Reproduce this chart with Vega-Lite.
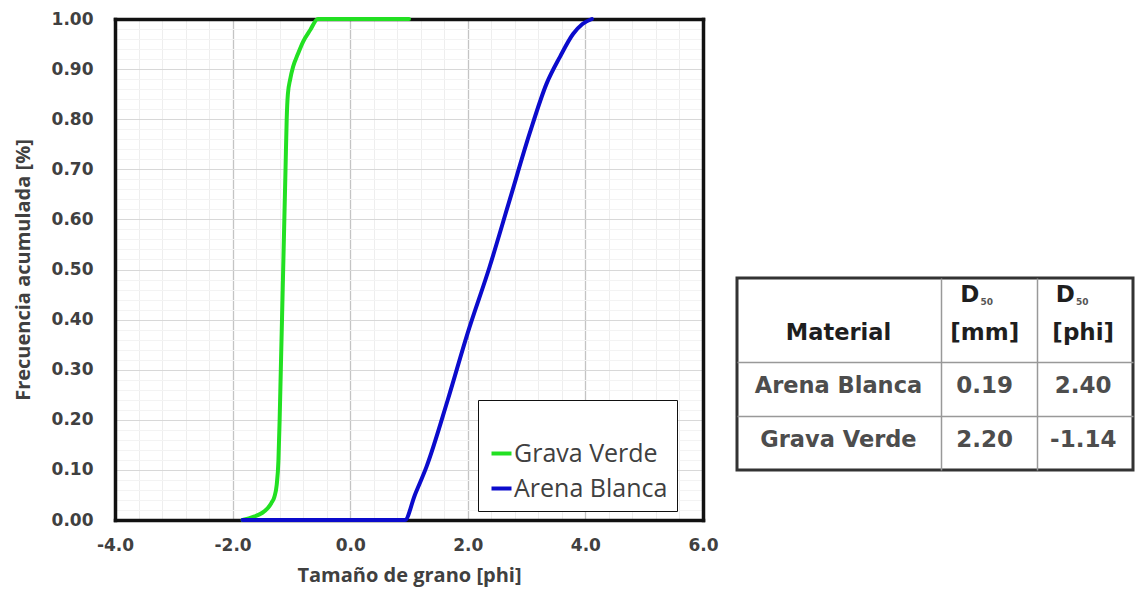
{
  "$schema": "https://vega.github.io/schema/vega-lite/v6.json",
  "padding": {"left": 13, "top": 10, "right": 2, "bottom": 14},
  "bounds": "flush",
  "spacing": 34,
  "datasets": {
    "curvas": [
      {"material": "Grava Verde", "phi": -1.83, "frecuencia": 0.0},
      {"material": "Grava Verde", "phi": -1.65, "frecuencia": 0.006},
      {"material": "Grava Verde", "phi": -1.5, "frecuencia": 0.014},
      {"material": "Grava Verde", "phi": -1.4, "frecuencia": 0.024},
      {"material": "Grava Verde", "phi": -1.34, "frecuencia": 0.034},
      {"material": "Grava Verde", "phi": -1.29, "frecuencia": 0.046},
      {"material": "Grava Verde", "phi": -1.25, "frecuencia": 0.07},
      {"material": "Grava Verde", "phi": -1.22, "frecuencia": 0.12},
      {"material": "Grava Verde", "phi": -1.2, "frecuencia": 0.2},
      {"material": "Grava Verde", "phi": -1.18, "frecuencia": 0.3},
      {"material": "Grava Verde", "phi": -1.16, "frecuencia": 0.4},
      {"material": "Grava Verde", "phi": -1.14, "frecuencia": 0.5},
      {"material": "Grava Verde", "phi": -1.12, "frecuencia": 0.6},
      {"material": "Grava Verde", "phi": -1.1, "frecuencia": 0.7},
      {"material": "Grava Verde", "phi": -1.08, "frecuencia": 0.8},
      {"material": "Grava Verde", "phi": -1.06, "frecuencia": 0.85},
      {"material": "Grava Verde", "phi": -1.02, "frecuencia": 0.88},
      {"material": "Grava Verde", "phi": -0.97, "frecuencia": 0.905},
      {"material": "Grava Verde", "phi": -0.89, "frecuencia": 0.93},
      {"material": "Grava Verde", "phi": -0.8, "frecuencia": 0.955},
      {"material": "Grava Verde", "phi": -0.68, "frecuencia": 0.978},
      {"material": "Grava Verde", "phi": -0.55, "frecuencia": 1.0},
      {"material": "Grava Verde", "phi": 1.0, "frecuencia": 1.0},
      {"material": "Arena Blanca", "phi": -1.83, "frecuencia": 0.0},
      {"material": "Arena Blanca", "phi": 0.93, "frecuencia": 0.0},
      {"material": "Arena Blanca", "phi": 1.1, "frecuencia": 0.05},
      {"material": "Arena Blanca", "phi": 1.3, "frecuencia": 0.107},
      {"material": "Arena Blanca", "phi": 1.66, "frecuencia": 0.24},
      {"material": "Arena Blanca", "phi": 2.0, "frecuencia": 0.374},
      {"material": "Arena Blanca", "phi": 2.37, "frecuencia": 0.505},
      {"material": "Arena Blanca", "phi": 2.71, "frecuencia": 0.638},
      {"material": "Arena Blanca", "phi": 3.05, "frecuencia": 0.771},
      {"material": "Arena Blanca", "phi": 3.34, "frecuencia": 0.871},
      {"material": "Arena Blanca", "phi": 3.57, "frecuencia": 0.925},
      {"material": "Arena Blanca", "phi": 3.79, "frecuencia": 0.97},
      {"material": "Arena Blanca", "phi": 3.95, "frecuencia": 0.99},
      {"material": "Arena Blanca", "phi": 4.11, "frecuencia": 1.0}
    ],
    "tabla": [
      {"Material": "Material", "mm": "[mm]", "phi": "[phi]"},
      {"Material": "Arena Blanca", "mm": "0.19", "phi": "2.40"},
      {"Material": "Grava Verde", "mm": "2.20", "phi": "-1.14"}
    ]
  },
  "hconcat": [
    {
      "width": 588,
      "height": 501,
      "data": {"name": "curvas"},
      "layer": [
        {
          "mark": {"type": "point", "opacity": 0},
          "encoding": {
            "x": {
              "field": "phi", "type": "quantitative",
              "scale": {"domain": [-4, 6], "nice": false, "zero": false},
              "axis": {
                "orient": "top",
                "values": [-3.6, -3.2, -2.8, -2.4, -1.6, -1.2, -0.8, -0.4, 0.4, 0.8, 1.2, 1.6, 2.4, 2.8, 3.2, 3.6, 4.4, 4.8, 5.2, 5.6],
                "grid": true, "gridColor": "#eeeeee", "gridWidth": 1,
                "labels": false, "ticks": false,
                "domain": true, "domainColor": "#111111", "domainWidth": 3.5, "domainCap": "square",
                "title": null
              }
            },
            "y": {
              "field": "frecuencia", "type": "quantitative",
              "scale": {"domain": [0, 1], "nice": false},
              "axis": {
                "orient": "right",
                "values": [0.02, 0.04, 0.06, 0.08, 0.12, 0.14, 0.16, 0.18, 0.22, 0.24, 0.26, 0.28, 0.32, 0.34, 0.36, 0.38, 0.42, 0.44, 0.46, 0.48, 0.52, 0.54, 0.56, 0.58, 0.62, 0.64, 0.66, 0.68, 0.72, 0.74, 0.76, 0.78, 0.82, 0.84, 0.86, 0.88, 0.92, 0.94, 0.96, 0.98],
                "grid": true, "gridColor": "#f3f3f3", "gridWidth": 1,
                "labels": false, "ticks": false,
                "domain": true, "domainColor": "#111111", "domainWidth": 3.5, "domainCap": "square",
                "title": null
              }
            }
          }
        },
        {
          "mark": {"type": "line", "strokeWidth": 4, "interpolate": "monotone", "strokeCap": "round"},
          "encoding": {
            "x": {
              "field": "phi", "type": "quantitative",
              "axis": {
                "orient": "bottom",
                "values": [-4, -2, 0, 2, 4, 6],
                "grid": true, "gridColor": "#c4c4c4", "gridWidth": 1.3,
                "ticks": false, "labelFlush": false, "labelOverlap": false,
                "domain": true, "domainColor": "#111111", "domainWidth": 3.5, "domainCap": "square",
                "labelExpr": "replace(format(datum.value, '.1f'), '\u2212', '-')",
                "labelFont": "DejaVu Sans", "labelFontWeight": "bold", "labelFontSize": 17, "labelColor": "#404040", "labelPadding": 17,
                "title": "Tamaño de grano [phi]",
                "titleFont": "Open Sans", "titleFontWeight": "bold", "titleFontSize": 20, "titleColor": "#404040", "titlePadding": 12
              }
            },
            "y": {
              "field": "frecuencia", "type": "quantitative",
              "axis": {
                "orient": "left",
                "values": [0, 0.1, 0.2, 0.3, 0.4, 0.5, 0.6, 0.7, 0.8, 0.9, 1],
                "grid": true, "gridColor": "#d8d8d8", "gridWidth": 1.2,
                "ticks": false, "labelOverlap": false,
                "domain": true, "domainColor": "#111111", "domainWidth": 3.5, "domainCap": "square",
                "format": ".2f",
                "labelFont": "DejaVu Sans", "labelFontWeight": "bold", "labelFontSize": 17, "labelColor": "#404040", "labelPadding": 22,
                "title": "Frecuencia acumulada [%]",
                "titleFont": "Open Sans", "titleFontWeight": "bold", "titleFontSize": 20, "titleColor": "#404040", "titlePadding": 18
              }
            },
            "color": {
              "field": "material", "type": "nominal",
              "scale": {"domain": ["Grava Verde", "Arena Blanca"], "range": ["#22e022", "#0b0bcc"]},
              "legend": {
                "orient": "none", "legendX": 363, "legendY": 381,
                "title": " ", "titleFontSize": 20, "titlePadding": 12,
                "padding": 9, "symbolType": "stroke", "symbolSize": 400, "symbolStrokeWidth": 4, "symbolOffset": 2,
                "labelFont": "Open Sans", "labelFontSize": 25, "labelColor": "#404040", "labelOffset": 0,
                "rowPadding": 9, "strokeColor": "#111111", "fillColor": "#ffffff"
              }
            }
          }
        }
      ],
      "resolve": {"axis": {"x": "independent", "y": "independent"}}
    },
    {
      "spacing": 0,
      "bounds": "flush",
      "vconcat": [
        {
          "width": 396,
          "height": 259,
          "data": {"values": [{}]},
          "mark": {"type": "text", "text": ""},
          "encoding": {}
        },
        {
          "width": 396,
          "height": 192,
          "view": {"stroke": "#333333", "strokeWidth": 3},
          "data": {"name": "tabla"},
          "layer": [
            {
              "mark": {"type": "text", "font": "DejaVu Sans", "fontWeight": "bold", "fontSize": 22.5, "dx": -8, "dy": -3},
              "encoding": {
                "x": {
                  "datum": "Material", "type": "nominal", "bandPosition": 0,
                  "scale": {"type": "band", "domain": ["Material", "mm", "phi"], "paddingInner": 0, "paddingOuter": 0.573, "align": 1},
                  "axis": {"orient": "top", "values": ["mm", "phi"], "bandPosition": 0, "grid": true, "gridColor": "#999999", "gridWidth": 1.5, "labels": false, "ticks": false, "domain": false, "title": null}
                },
                "y": {
                  "field": "Material", "type": "nominal",
                  "scale": {"type": "band", "domain": ["Material", "Arena Blanca", "Grava Verde"], "paddingInner": 0, "paddingOuter": 0.287, "align": 1},
                  "axis": {"orient": "left", "values": ["Arena Blanca", "Grava Verde"], "bandPosition": 0, "grid": true, "gridColor": "#999999", "gridWidth": 1.5, "labels": false, "ticks": false, "domain": false, "title": null}
                },
                "text": {"field": "Material"},
                "color": {"condition": {"test": "datum.Material === 'Material'", "value": "#1e1e1e"}, "value": "#4d4d4d"}
              }
            },
            {
              "mark": {"type": "text", "font": "DejaVu Sans", "fontWeight": "bold", "fontSize": 23, "dx": -5, "dy": -3},
              "encoding": {
                "x": {"datum": "mm", "type": "nominal"},
                "y": {"field": "Material", "type": "nominal"},
                "text": {"field": "mm"},
                "color": {"condition": {"test": "datum.Material === 'Material'", "value": "#1e1e1e"}, "value": "#4d4d4d"}
              }
            },
            {
              "mark": {"type": "text", "font": "DejaVu Sans", "fontWeight": "bold", "fontSize": 23, "dx": -2, "dy": -3},
              "encoding": {
                "x": {"datum": "phi", "type": "nominal"},
                "y": {"field": "Material", "type": "nominal"},
                "text": {"field": "phi"},
                "color": {"condition": {"test": "datum.Material === 'Material'", "value": "#1e1e1e"}, "value": "#4d4d4d"}
              }
            },
            {
              "data": {"values": [{"col": "mm"}, {"col": "phi"}]},
              "mark": {"type": "text", "text": "D", "font": "DejaVu Sans", "fontWeight": "bold", "fontSize": 23, "dx": -20, "dy": -41, "color": "#1e1e1e"},
              "encoding": {
                "x": {"field": "col", "type": "nominal"},
                "y": {"datum": "Material", "type": "nominal"}
              }
            },
            {
              "data": {"values": [{"col": "mm"}, {"col": "phi"}]},
              "mark": {"type": "text", "text": "50", "font": "DejaVu Sans", "fontWeight": "bold", "fontSize": 9, "dx": -3, "dy": -34, "color": "#555555"},
              "encoding": {
                "x": {"field": "col", "type": "nominal"},
                "y": {"datum": "Material", "type": "nominal"}
              }
            }
          ]
        }
      ]
    }
  ],
  "config": {
    "view": {"stroke": null},
    "font": "DejaVu Sans"
  }
}
